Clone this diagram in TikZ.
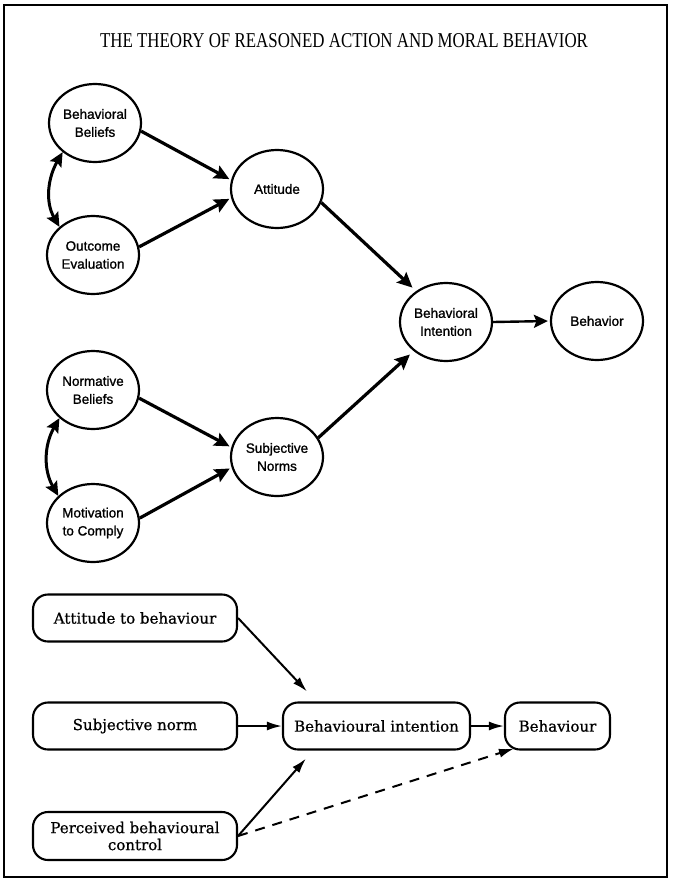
\documentclass[tikz,border=0pt]{standalone}
\usepackage{fontspec}
\setmainfont{Liberation Serif}
\newfontfamily\ovalfont[FakeBold=1.2]{Liberation Sans}
\newfontfamily\boxfont[FakeBold=0.8]{DejaVu Serif}
\usetikzlibrary{arrows.meta,shapes.geometric,calc}
\begin{document}
\begin{tikzpicture}[x=1pt,y=-1pt,
  oval/.style={ellipse,draw,line width=2.2pt,minimum width=92pt,minimum height=78pt,
    inner sep=0pt,align=center,font=\ovalfont\fontsize{13.5}{18}\selectfont},
  heavy/.style={line width=3.2pt,-{Stealth[length=15pt,width=14pt,inset=2.5pt]}},
  twohead/.style={line width=3pt,{Stealth[length=14pt,width=13pt,inset=2.5pt]}-{Stealth[length=14pt,width=13pt,inset=2.5pt]}},
  medium/.style={line width=2.4pt,-{Stealth[length=14pt,width=13pt,inset=2.5pt]}},
  rbox/.style={draw,line width=2.1pt,rounded corners=15pt,minimum height=47pt,
    inner sep=2pt,align=center,font=\boxfont\fontsize{15}{17}\selectfont},
  thin/.style={line width=2pt,-{Latex[length=15pt,width=9pt]}},
  dashy/.style={thin,dash pattern=on 10pt off 8pt}
]
\useasboundingbox (0,0) rectangle (688,881);
\draw[line width=2.4pt] (4,5) rectangle (667,877);

\node (title) at (344,41) {\resizebox{488pt}{14pt}{\fontsize{20}{20}\selectfont THE THEORY OF REASONED ACTION AND MORAL BEHAVIOR}};

% top model
\node[oval] (bb)  at (95,123)  {Behavioral\\Beliefs};
\node[oval] (oe)  at (93,255)  {Outcome\\Evaluation};
\node[oval] (att) at (277,189) {Attitude};
\node[oval] (bi)  at (446,322) {Behavioral\\Intention};
\node[oval] (beh) at (597,321) {Behavior};
\node[oval] (nb)  at (93,390)  {Normative\\Beliefs};
\node[oval] (mc)  at (93,523)  {Motivation\\to Comply};
\node[oval] (sn)  at (277,457) {Subjective\\Norms};

\draw[heavy,shorten >=2pt] (bb.-10) -- (att.169);
\draw[heavy,shorten >=2pt] (oe.10) -- (att.191);
\draw[heavy,shorten >=5pt] (att.-17) -- (bi.134);
\draw[heavy,shorten >=5pt] (sn.25) -- (bi.222);
\draw[medium,shorten >=2pt] (bi.east) -- (beh.west);
\draw[heavy,shorten >=2pt] (nb.-10) -- (sn.168);
\draw[heavy,shorten >=2pt] (mc.6) -- (sn.193);
\draw[twohead] (bb.222) to[out=240,in=120] (oe.140);
\draw[twohead] (nb.220) to[out=240,in=120] (mc.142);

% bottom model
\node[rbox,minimum width=204pt] (atb)  at (135,618) {Attitude to behaviour};
\node[rbox,minimum width=204pt] (sno)  at (135,726) {Subjective norm};
\node[rbox,minimum width=204pt,minimum height=48pt] (pbc) at (135,836) {Perceived behavioural\\control};
\node[rbox,minimum width=187pt] (bint) at (376.5,726) {Behavioural intention};
\node[rbox,minimum width=105pt] (behv) at (557.5,726) {Behaviour};

\draw[thin] (atb.east) -- ($(bint.north west)+(25,-10)$);
\draw[thin] (sno.east) -- (bint.west);
\draw[thin] (pbc.east) -- ($(bint.south west)+(24,8)$);
\draw[thin] (bint.east) -- (behv.west);
\draw[dashy] (pbc.east) -- ($(behv.south west)+(10,-2)$);
\end{tikzpicture}
\end{document}
